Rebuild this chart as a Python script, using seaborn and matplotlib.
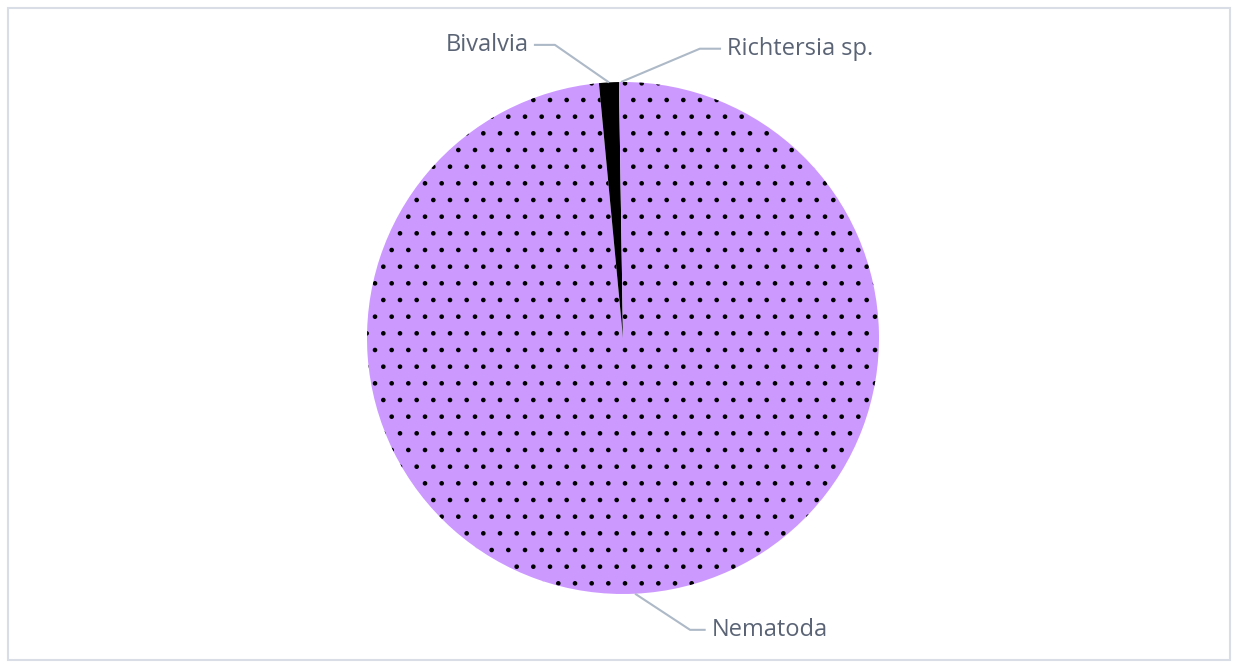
import numpy as np
import seaborn as sns
import matplotlib.pyplot as plt
from matplotlib.patches import Rectangle

# data (percent of individuals)
taxa = ["Nematoda", "Bivalvia", "Richtersia sp."]
share = [98.5, 1.25, 0.25]
slice_colors = ["#CC99FF", "#000000", "#CC99FF"]

# label positions (data units, pie radius = 1) and elbow points of the leader lines
label_xy = [(0.345, -1.14), (-0.37, 1.145), (0.405, 1.13)]
elbow_xy = [(0.262, -1.14), (-0.266, 1.145), (0.30, 1.13)]
label_ha = ["left", "right", "left"]

sns.set_theme(style="white")
plt.rcParams["font.family"] = ["Open Sans", "DejaVu Sans"]
plt.rcParams["hatch.linewidth"] = 0.9

fig = plt.figure(figsize=(12.33, 6.66), dpi=100)
ax = fig.add_axes([0, 0, 1, 1])

wedges, _ = ax.pie(share, colors=slice_colors, startangle=90, counterclock=False,
                   radius=1.0, center=(0, 0),
                   wedgeprops=dict(linewidth=0, edgecolor="black"))
for w, c in zip(wedges, slice_colors):
    if c != "#000000":
        w.set_hatch(".")
        w.set_edgecolor("black")
        w.set_linewidth(0)

# axes mapped so the pie sits where it does in the reference
ax.set_xlim(-623 / 256, (1233 - 623) / 256)
ax.set_ylim(-(666 - 338) / 256, 338 / 256)
ax.set_aspect("equal", adjustable="datalim")
ax.axis("off")

line_col = "#ADB9C7"
text_col = "#5A6475"
for w, name, (tx, ty), (ex, ey), ha in zip(wedges, taxa, label_xy, elbow_xy, label_ha):
    mid = np.deg2rad((w.theta1 + w.theta2) / 2)
    px, py = np.cos(mid) * 1.0, np.sin(mid) * 1.0
    end_x = tx - 0.022 if ha == "left" else tx + 0.022
    ax.plot([px, ex, end_x], [py, ey, ey], color=line_col, lw=1.5, solid_capstyle="butt")
    ax.text(tx, ty, name, ha=ha, va="center", fontsize=17, color=text_col)

fig.patches.append(Rectangle((8 / 1233, 6 / 666), 1222 / 1233, 652 / 666,
                             transform=fig.transFigure, fill=False,
                             edgecolor="#D9DEE6", linewidth=1.5))

fig.savefig("out.png", dpi=100)
